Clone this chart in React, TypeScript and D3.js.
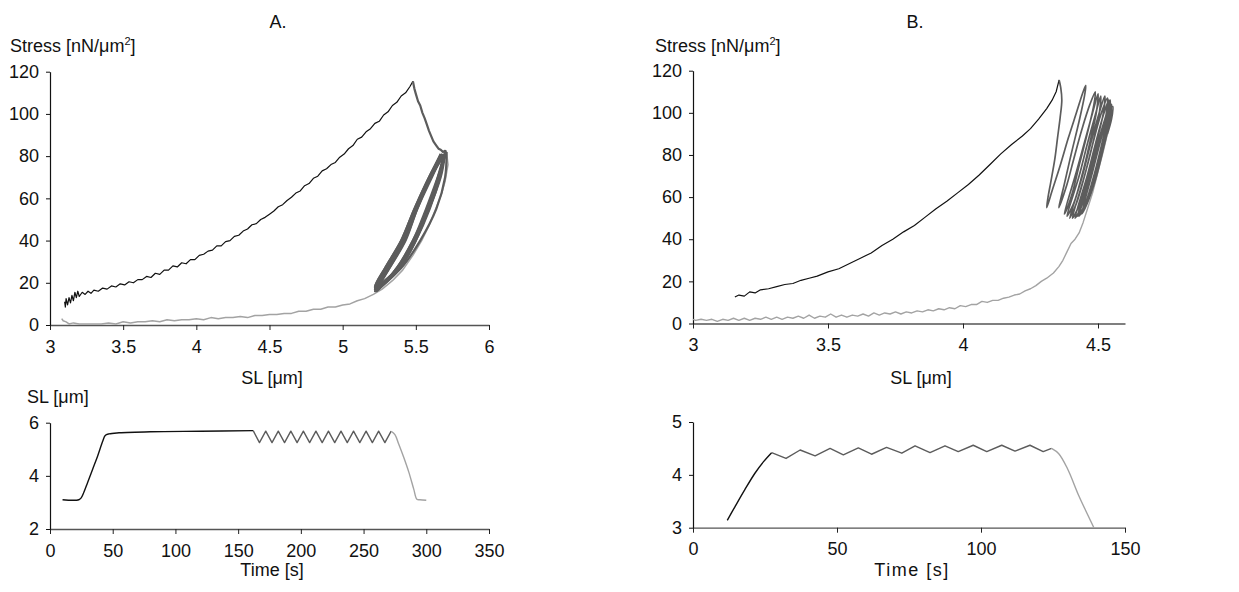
import React, { useEffect, useRef } from 'react';
import * as d3 from 'd3';

type Pt = [number, number];

// ---------- A: stress vs SL ----------
const aStretch: Pt[] = [
  [3.10, 11], [3.105, 8.5], [3.11, 12.5], [3.12, 9.5], [3.13, 13], [3.14, 10.5], [3.15, 14], [3.16, 11.5],
  [3.17, 15.5], [3.18, 13], [3.19, 16], [3.20, 13.5], [3.22, 15.5], [3.24, 14.5], [3.26, 16], [3.28, 15],
  [3.30, 16.5], [3.33, 16], [3.36, 17.5], [3.39, 17], [3.42, 18.5], [3.45, 18], [3.48, 19.5], [3.51, 19],
  [3.54, 20.5], [3.57, 20], [3.60, 21.5], [3.63, 21.5], [3.66, 23], [3.69, 22.5], [3.72, 24.5], [3.75, 24],
  [3.78, 26], [3.81, 26], [3.84, 28], [3.87, 27.5], [3.90, 29.5], [3.93, 29], [3.96, 31], [3.99, 31],
  [4.02, 33], [4.05, 33.5], [4.08, 35], [4.11, 35.5], [4.14, 37.5], [4.17, 37.5], [4.20, 39.5], [4.23, 40],
  [4.26, 42], [4.29, 42.5], [4.32, 44.5], [4.35, 45.5], [4.38, 47.5], [4.41, 48], [4.44, 50], [4.47, 51],
  [4.50, 52.5], [4.53, 54], [4.56, 56], [4.59, 57], [4.62, 59], [4.65, 60.5], [4.68, 62.5], [4.71, 63.5],
  [4.74, 66], [4.77, 67], [4.80, 69.5], [4.83, 70.5], [4.86, 73], [4.89, 74], [4.92, 76], [4.95, 77],
  [4.98, 79.5], [5.01, 81], [5.04, 83.5], [5.07, 85], [5.10, 88], [5.13, 89], [5.16, 91.5], [5.19, 93],
  [5.22, 95.5], [5.25, 96.5], [5.28, 99.5], [5.31, 101], [5.34, 104], [5.37, 105.5], [5.40, 108.5],
  [5.43, 110], [5.46, 113], [5.48, 115.5],
];

const aHold: Pt[] = [
  [5.48, 115.5], [5.49, 112], [5.50, 109.5], [5.515, 106], [5.53, 104], [5.545, 100.5], [5.56, 98],
  [5.575, 95], [5.59, 92], [5.605, 89.5], [5.62, 87], [5.64, 85], [5.655, 83.5], [5.67, 83], [5.685, 82],
  [5.70, 82.5], [5.71, 82],
];

// one row per cycle: top, release branch, bottom, stretch branch
const aCycles: Pt[][] = [
  [[5.71, 82], [5.70, 70], [5.64, 55], [5.53, 40], [5.40, 27], [5.23, 17], [5.30, 27], [5.41, 40], [5.50, 55], [5.60, 70], [5.68, 80]],
  [[5.70, 81], [5.67, 70], [5.59, 55], [5.49, 40], [5.38, 27], [5.22, 18], [5.29, 27], [5.40, 40], [5.49, 55], [5.59, 70], [5.67, 80]],
  [[5.70, 82], [5.66, 70], [5.58, 55], [5.48, 40], [5.37, 27], [5.23, 16], [5.31, 27], [5.42, 40], [5.50, 55], [5.60, 70], [5.68, 81]],
  [[5.69, 80], [5.65, 70], [5.585, 55], [5.50, 40], [5.39, 27], [5.22, 17], [5.30, 27], [5.405, 40], [5.495, 55], [5.595, 70], [5.67, 80]],
  [[5.70, 81], [5.655, 70], [5.575, 55], [5.485, 40], [5.375, 27], [5.24, 18], [5.32, 27], [5.43, 40], [5.51, 55], [5.61, 70], [5.68, 80]],
  [[5.69, 81], [5.66, 70], [5.59, 55], [5.495, 40], [5.385, 27], [5.22, 17], [5.30, 27], [5.415, 40], [5.50, 55], [5.60, 70], [5.67, 81]],
  [[5.70, 80], [5.65, 70], [5.57, 55], [5.48, 40], [5.37, 27], [5.23, 16], [5.31, 27], [5.42, 40], [5.505, 55], [5.605, 70], [5.68, 80]],
  [[5.69, 81], [5.66, 70], [5.585, 55], [5.49, 40], [5.38, 27], [5.22, 18], [5.29, 27], [5.40, 40], [5.49, 55], [5.59, 70], [5.67, 81]],
  [[5.70, 82], [5.665, 70], [5.595, 55], [5.50, 40], [5.39, 27], [5.23, 17], [5.30, 27], [5.41, 40], [5.495, 55], [5.595, 70], [5.67, 80]],
  [[5.69, 80], [5.655, 70], [5.58, 55], [5.49, 40], [5.38, 27], [5.24, 17], [5.32, 27], [5.425, 40], [5.51, 55], [5.60, 70], [5.68, 81]],
  [[5.70, 81], [5.66, 70], [5.585, 55], [5.495, 40], [5.385, 27], [5.22, 16], [5.30, 27], [5.41, 40], [5.50, 55], [5.60, 70], [5.70, 81]],
];

const aRelease: Pt[] = [
  [5.71, 82], [5.72, 76], [5.70, 68], [5.67, 61], [5.63, 54], [5.59, 47], [5.54, 40], [5.48, 33], [5.41, 26],
  [5.34, 21], [5.27, 17], [5.21, 14.5], [5.15, 12.5], [5.10, 11.5], [5.05, 10], [5.00, 9.5], [4.95, 8.5],
  [4.90, 8.5], [4.85, 7.5], [4.80, 7.5], [4.75, 6.5], [4.70, 6.5], [4.65, 5.5], [4.60, 5.5], [4.55, 5],
  [4.50, 5], [4.45, 4.5], [4.40, 4.5], [4.35, 3.5], [4.30, 4], [4.25, 3.5], [4.20, 3.5], [4.15, 3],
  [4.10, 3.5], [4.05, 2.5], [4.00, 3], [3.95, 2.5], [3.90, 2.5], [3.85, 2], [3.80, 2.5], [3.75, 1.5],
  [3.70, 2], [3.65, 1.5], [3.60, 1.5], [3.55, 1], [3.50, 1.5], [3.45, 0.5], [3.40, 1], [3.35, 0.5],
  [3.30, 0.5], [3.25, 0.5], [3.20, 0.5], [3.16, 1], [3.13, 0.5], [3.11, 1.5], [3.09, 2], [3.08, 3],
];

// ---------- B: stress vs SL ----------
const bStretch: Pt[] = [
  [3.155, 12.6], [3.17, 13.5], [3.19, 13], [3.21, 15], [3.23, 14.5], [3.25, 16], [3.28, 16.5], [3.31, 17.5],
  [3.34, 18.5], [3.37, 19], [3.40, 20.5], [3.43, 21.5], [3.46, 22.5], [3.50, 24.5], [3.54, 26], [3.58, 28.5],
  [3.62, 31], [3.66, 33.5], [3.70, 37], [3.74, 40], [3.78, 43.5], [3.82, 46.5], [3.86, 50.5], [3.90, 54.5],
  [3.94, 58], [3.98, 62], [4.02, 66], [4.06, 70.5], [4.10, 75.5], [4.14, 80.5], [4.18, 85], [4.22, 89],
  [4.25, 92.5], [4.28, 97], [4.31, 102], [4.33, 106], [4.345, 110], [4.356, 115.6],
];

const bCycles: Pt[] = [
  [4.356, 115.6], [4.362, 112], [4.366, 106], [4.36, 98], [4.35, 88], [4.34, 78], [4.325, 67], [4.315, 60], [4.31, 55],
  [4.33, 63], [4.36, 75], [4.39, 88], [4.42, 100], [4.445, 110], [4.455, 113],
  [4.45, 108], [4.43, 96], [4.40, 80], [4.375, 66], [4.36, 58], [4.355, 55],
  [4.385, 66], [4.41, 78], [4.44, 92], [4.47, 104], [4.49, 110],
  [4.485, 104], [4.46, 90], [4.43, 75], [4.405, 62], [4.38, 53], [4.375, 52],
  [4.42, 72], [4.45, 86], [4.48, 100], [4.50, 109],
  [4.495, 101], [4.47, 86], [4.44, 70], [4.41, 57], [4.385, 51],
  [4.43, 70], [4.46, 85], [4.49, 99], [4.51, 108],
  [4.505, 100], [4.48, 85], [4.45, 70], [4.42, 57], [4.395, 50],
  [4.44, 69], [4.47, 84], [4.50, 98], [4.525, 108],
  [4.52, 100], [4.49, 84], [4.46, 69], [4.43, 56], [4.405, 50],
  [4.45, 70], [4.48, 85], [4.51, 99], [4.535, 107],
  [4.53, 99], [4.50, 84], [4.47, 68], [4.44, 56], [4.415, 50],
  [4.46, 70], [4.49, 85], [4.52, 99], [4.54, 106],
  [4.535, 98], [4.51, 83], [4.48, 68], [4.45, 56], [4.425, 51],
  [4.47, 71], [4.50, 86], [4.53, 99], [4.545, 106],
  [4.54, 98], [4.515, 83], [4.485, 68], [4.455, 57], [4.43, 51],
  [4.475, 71], [4.505, 86], [4.535, 99], [4.55, 104],
  [4.545, 97], [4.52, 83], [4.49, 68], [4.46, 57], [4.44, 52],
  [4.48, 72], [4.51, 87], [4.54, 100], [4.555, 103],
  [4.55, 97], [4.535, 90],
];

const bRelease: Pt[] = [
  [4.535, 90], [4.52, 82], [4.50, 72], [4.48, 62], [4.46, 54], [4.445, 48], [4.43, 43], [4.415, 40], [4.40, 38],
  [4.385, 34], [4.37, 30], [4.355, 27], [4.335, 24], [4.31, 21.5], [4.29, 20], [4.27, 18], [4.25, 16.5],
  [4.23, 15.5], [4.21, 14], [4.19, 13.5], [4.17, 12.5], [4.15, 12], [4.13, 11], [4.11, 11], [4.09, 10],
  [4.07, 10.5], [4.05, 9], [4.03, 9], [4.01, 8], [3.99, 8.5], [3.97, 7], [3.95, 7.5], [3.93, 6.5], [3.91, 7],
  [3.89, 6], [3.87, 6.5], [3.85, 5.5], [3.83, 6], [3.81, 5], [3.79, 5.5], [3.77, 4.5], [3.75, 5.5], [3.73, 4.5],
  [3.71, 5], [3.69, 4], [3.67, 5], [3.65, 3.5], [3.63, 4.5], [3.61, 3.5], [3.59, 4], [3.57, 3], [3.55, 4],
  [3.53, 3], [3.51, 4.5], [3.49, 3], [3.47, 3.5], [3.45, 2.5], [3.43, 4], [3.41, 2.5], [3.39, 3.5], [3.37, 2.5],
  [3.35, 3], [3.33, 2], [3.31, 3], [3.29, 2], [3.27, 3], [3.25, 2], [3.23, 2.5], [3.21, 1.5], [3.19, 2.5],
  [3.17, 1.5], [3.15, 2.5], [3.13, 1.5], [3.11, 2], [3.09, 1], [3.07, 2], [3.05, 1.5], [3.03, 2], [3.01, 1.5], [3.0, 2],
];

// ---------- SL vs time ----------
const aTimeStretch: Pt[] = [
  [10, 3.1], [23, 3.1], [25, 3.18], [27, 3.38], [30, 3.75], [34, 4.25], [38, 4.75], [42, 5.3], [44, 5.52],
  [47, 5.58], [55, 5.62], [80, 5.66], [120, 5.68], [162, 5.70],
];
const aTimeCycles: Pt[] = [
  [162, 5.70], [167, 5.25], [172, 5.68], [177, 5.25], [182, 5.68], [187, 5.25], [192, 5.68], [197, 5.25],
  [202, 5.68], [207, 5.25], [212, 5.68], [217, 5.25], [222, 5.68], [227, 5.25], [232, 5.68], [237, 5.25],
  [242, 5.68], [247, 5.25], [252, 5.68], [257, 5.25], [262, 5.68], [267, 5.25], [272, 5.68],
];
const aTimeRelease: Pt[] = [
  [272, 5.68], [275, 5.55], [278, 5.2], [282, 4.7], [286, 4.15], [290, 3.5], [292.5, 3.12], [295, 3.1], [300, 3.08],
];

const bTimeStretch: Pt[] = [
  [11.9, 3.14], [14.6, 3.4], [18, 3.72], [21.5, 4.03], [24.5, 4.25], [27.3, 4.42],
];
const bTimeCycles: Pt[] = [
  [27.3, 4.42], [32.3, 4.31], [37.2, 4.47], [42.4, 4.36], [47.6, 4.50], [52.2, 4.38], [57.4, 4.51],
  [62.0, 4.39], [67.2, 4.52], [72.5, 4.41], [77.1, 4.55], [82.3, 4.42], [87.5, 4.55], [92.1, 4.44],
  [97.3, 4.56], [102, 4.44], [107.2, 4.56], [111.8, 4.45], [117, 4.56], [121.6, 4.44], [124.5, 4.50],
];
const bTimeRelease: Pt[] = [
  [124.5, 4.50], [127, 4.4], [130, 4.12], [134, 3.6], [137, 3.25], [139.2, 3.0],
];

// ---------- ticks ----------
const stressTicks = [0, 20, 40, 60, 80, 100, 120];
const aSLTicks = [3, 3.5, 4, 4.5, 5, 5.5, 6];
const bSLTicks = [3, 3.5, 4, 4.5];
const aTimeTicks = [0, 50, 100, 150, 200, 250, 300, 350];
const aTimeSLTicks = [2, 4, 6];
const bTimeTicks = [0, 50, 100, 150];
const bTimeSLTicks = [3, 4, 5];

const FONT = '"Liberation Sans", Arial, sans-serif';
const FS = 18;
const BLACK = '#111';
const DARK = '#5c5c5c';
const LIGHT = '#a3a3a3';

type Series = { data: Pt[]; color: string; width: number; smooth?: boolean };
type Panel = {
  xDomain: [number, number]; xRange: [number, number];
  yDomain: [number, number]; yRange: [number, number];
  xTicks: number[]; yTicks: number[];
  series: Series[];
};

const panels: Panel[] = [
  {
    xDomain: [3, 6], xRange: [50, 489], yDomain: [0, 120], yRange: [325, 71.7],
    xTicks: aSLTicks, yTicks: stressTicks,
    series: [
      { data: aRelease, color: LIGHT, width: 1.5 },
      { data: aStretch, color: BLACK, width: 1.2 },
      { data: aHold, color: DARK, width: 2.2 },
      ...aCycles.map(c => ({ data: c, color: DARK, width: 2.2, smooth: true })),
    ],
  },
  {
    xDomain: [3, 4.6], xRange: [693, 1125], yDomain: [0, 120], yRange: [323.5, 70.7],
    xTicks: bSLTicks, yTicks: stressTicks,
    series: [
      { data: bRelease, color: LIGHT, width: 1.4 },
      { data: bStretch, color: BLACK, width: 1.2 },
      { data: bCycles, color: DARK, width: 1.7, smooth: true },
    ],
  },
  {
    xDomain: [0, 350], xRange: [50, 489], yDomain: [2, 6], yRange: [529, 422.7],
    xTicks: aTimeTicks, yTicks: aTimeSLTicks,
    series: [
      { data: aTimeStretch, color: BLACK, width: 1.4, smooth: true },
      { data: aTimeCycles, color: DARK, width: 1.4 },
      { data: aTimeRelease, color: LIGHT, width: 1.4, smooth: true },
    ],
  },
  {
    xDomain: [0, 150], xRange: [693, 1125], yDomain: [3, 5], yRange: [527.7, 422],
    xTicks: bTimeTicks, yTicks: bTimeSLTicks,
    series: [
      { data: bTimeStretch, color: BLACK, width: 1.4, smooth: true },
      { data: bTimeCycles, color: DARK, width: 1.4 },
      { data: bTimeRelease, color: LIGHT, width: 1.4, smooth: true },
    ],
  },
];

function drawPanel(root: d3.Selection<SVGGElement, unknown, null, undefined>, p: Panel) {
  const x = d3.scaleLinear().domain(p.xDomain).range(p.xRange);
  const y = d3.scaleLinear().domain(p.yDomain).range(p.yRange);
  const g = root.append('g');

  // x axis
  const xAxis = g.append('g')
    .attr('transform', `translate(0,${p.yRange[0]})`)
    .call(d3.axisBottom(x).tickValues(p.xTicks).tickSize(5).tickSizeOuter(0).tickPadding(10).tickFormat(d => String(d)));
  xAxis.select('.domain').attr('stroke', '#555').attr('stroke-width', 1.3);
  xAxis.selectAll('.tick line').attr('stroke', '#222');

  // y axis
  const yAxis = g.append('g')
    .attr('transform', `translate(${p.xRange[0]},0)`)
    .call(d3.axisLeft(y).tickValues(p.yTicks).tickSize(4).tickSizeOuter(0).tickPadding(7).tickFormat(d => String(d)));
  yAxis.select('.domain').attr('stroke', '#111').attr('stroke-width', 1.2);
  yAxis.selectAll('.tick line').attr('stroke', '#111');

  g.selectAll('.tick text')
    .attr('font-family', FONT)
    .attr('font-size', FS)
    .attr('fill', '#111');

  // curves
  p.series.forEach(s => {
    const line = d3.line<Pt>()
      .x(d => x(d[0]))
      .y(d => y(d[1]))
      .curve(s.smooth ? d3.curveCatmullRom.alpha(0.5) : d3.curveLinear);
    g.append('path')
      .attr('d', line(s.data))
      .attr('fill', 'none')
      .attr('stroke', s.color)
      .attr('stroke-width', s.width)
      .attr('stroke-linejoin', 'round');
  });
}

const Sup = () => (
  <>
    <tspan dy={-7} fontSize={11}>2</tspan>
    <tspan dy={7}>]</tspan>
  </>
);

export default function App() {
  const plotRef = useRef<SVGGElement>(null);

  useEffect(() => {
    const root = d3.select(plotRef.current as SVGGElement);
    root.selectAll('*').remove();
    panels.forEach(p => drawPanel(root, p));
  }, []);

  return (
    <svg width={1239} height={592} style={{ position: 'absolute', left: 0, top: 0, background: '#fff' }}
      fontFamily={FONT} fontSize={FS} fill="#111">
      <g ref={plotRef} />
      {/* titles */}
      <text x={278} y={28} textAnchor="middle">A.</text>
      <text x={915} y={28} textAnchor="middle">B.</text>
      {/* stress labels */}
      <text x={10} y={52}>Stress [nN/μm<Sup /></text>
      <text x={655} y={52}>Stress [nN/μm<Sup /></text>
      {/* SL x labels */}
      <text x={272} y={384} textAnchor="middle">SL [μm]</text>
      <text x={921} y={384} textAnchor="middle">SL [μm]</text>
      {/* bottom panels */}
      <text x={27} y={403}>SL [μm]</text>
      <text x={272} y={576} textAnchor="middle">Time [s]</text>
      <text x={912} y={576} textAnchor="middle" letterSpacing={1.5}>Time [s]</text>
    </svg>
  );
}
